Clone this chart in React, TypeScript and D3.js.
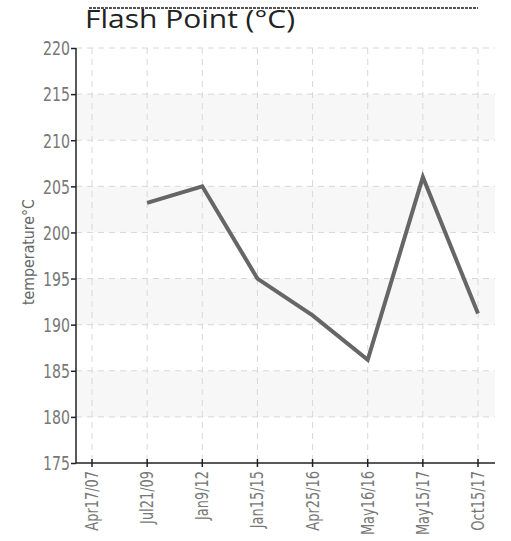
import { useEffect, useRef } from "react";
import * as d3 from "d3";

// ---- data ----
const DATES = [
  "Apr17/07",
  "Jul21/09",
  "Jan9/12",
  "Jan15/15",
  "Apr25/16",
  "May16/16",
  "May15/17",
  "Oct15/17",
];
const FLASH_POINT: (number | null)[] = [null, 203.2, 205, 195, 191, 186.2, 206, 191.2];
const Y_TICKS = [175, 180, 185, 190, 195, 200, 205, 210, 215, 220];
const BANDS: [number, number][] = [
  [180, 185],
  [190, 195],
  [200, 205],
  [210, 215],
];

const W = 511;
const H = 541;
const NARROW = "'DejaVu Sans Condensed', 'DejaVu Sans', sans-serif";

export default function App() {
  const svgRef = useRef<SVGSVGElement>(null);

  useEffect(() => {
    const svg = d3.select(svgRef.current);
    svg.selectAll("*").remove();

    const left = 76;
    const right = 495;
    const top = 48;
    const bottom = 463;

    const x = d3.scalePoint<string>().domain(DATES).range([92, 478]);
    const y = d3.scaleLinear().domain([175, 220]).range([bottom, top]);

    // ---- title ----
    svg
      .append("line")
      .attr("x1", 89)
      .attr("x2", 478)
      .attr("y1", 8)
      .attr("y2", 8)
      .attr("stroke", "#555")
      .attr("stroke-width", 2)
      .attr("stroke-dasharray", "3,1");

    svg
      .append("text")
      .attr("x", 85)
      .attr("y", 28)
      .attr("font-family", "'Open Sans', sans-serif")
      .attr("font-size", 25)
      .attr("fill", "#222")
      .attr("textLength", 210)
      .attr("lengthAdjust", "spacingAndGlyphs")
      .text("Flash Point (°C)");

    // ---- bands ----
    svg
      .append("g")
      .selectAll("rect")
      .data(BANDS)
      .join("rect")
      .attr("x", left)
      .attr("width", right - left)
      .attr("y", (d) => y(d[1]))
      .attr("height", (d) => y(d[0]) - y(d[1]))
      .attr("fill", "#f7f7f7");

    // ---- grid ----
    svg
      .append("g")
      .selectAll("line")
      .data(Y_TICKS.filter((t) => t > 175))
      .join("line")
      .attr("x1", left)
      .attr("x2", right)
      .attr("y1", (d) => y(d))
      .attr("y2", (d) => y(d))
      .attr("stroke", "#d8d8d8")
      .attr("stroke-dasharray", "6,5");

    svg
      .append("g")
      .selectAll("line")
      .data(DATES)
      .join("line")
      .attr("x1", (d) => x(d)!)
      .attr("x2", (d) => x(d)!)
      .attr("y1", top)
      .attr("y2", bottom)
      .attr("stroke", "#d8d8d8")
      .attr("stroke-dasharray", "6,5");

    // ---- y axis ----
    const yAxis = d3.axisLeft(y).tickValues(Y_TICKS).tickSize(5).tickPadding(1);
    svg
      .append("g")
      .attr("transform", `translate(${left},0)`)
      .call(yAxis)
      .call((sel) =>
        sel.select(".domain").attr("stroke", "#222").attr("stroke-width", 1.5).attr("d", `M0,${top}V${bottom}`)
      )
      .call((sel) => sel.selectAll(".tick line").attr("stroke", "#222").attr("stroke-width", 1.5))
      .call((sel) =>
        sel
          .selectAll(".tick text")
          .attr("fill", "#777")
          .attr("font-size", 19)
          .attr("font-family", NARROW)
          .attr("dy", "0.36em")
          .attr("textLength", 27)
          .attr("lengthAdjust", "spacingAndGlyphs")
      );

    svg
      .append("text")
      .attr("transform", `translate(34,252) rotate(-90)`)
      .attr("text-anchor", "middle")
      .attr("font-family", NARROW)
      .attr("font-size", 15)
      .attr("fill", "#666")
      .attr("textLength", 106)
      .attr("lengthAdjust", "spacingAndGlyphs")
      .text("temperature°C");

    // ---- x axis ----
    const xg = svg.append("g").attr("transform", `translate(0,${bottom})`);
    xg.append("line")
      .attr("x1", left)
      .attr("x2", right)
      .attr("stroke", "#222")
      .attr("stroke-width", 1.5);
    xg.selectAll("line.tk")
      .data(DATES)
      .join("line")
      .attr("class", "tk")
      .attr("x1", (d) => x(d)!)
      .attr("x2", (d) => x(d)!)
      .attr("y1", -4)
      .attr("y2", 4)
      .attr("stroke", "#222")
      .attr("stroke-width", 1.5);
    xg.selectAll("text")
      .data(DATES)
      .join("text")
      .attr("transform", (d) => `translate(${x(d)! + 6},8) rotate(-90) scale(0.8,1)`)
      .attr("text-anchor", "end")
      .attr("font-family", NARROW)
      .attr("font-size", 18)
      .attr("fill", "#777")
      .text((d) => d);

    // ---- line ----
    const pts = DATES.map((d, i) => ({ d, v: FLASH_POINT[i] }));
    const line = d3
      .line<{ d: string; v: number | null }>()
      .defined((p) => p.v !== null)
      .x((p) => x(p.d)!)
      .y((p) => y(p.v as number));

    svg
      .append("path")
      .datum(pts)
      .attr("d", line)
      .attr("fill", "none")
      .attr("stroke", "#666")
      .attr("stroke-width", 4);
  }, []);

  return (
    <svg
      ref={svgRef}
      width={W}
      height={H}
      style={{ position: "absolute", left: 0, top: 0, background: "#fff" }}
    />
  );
}
